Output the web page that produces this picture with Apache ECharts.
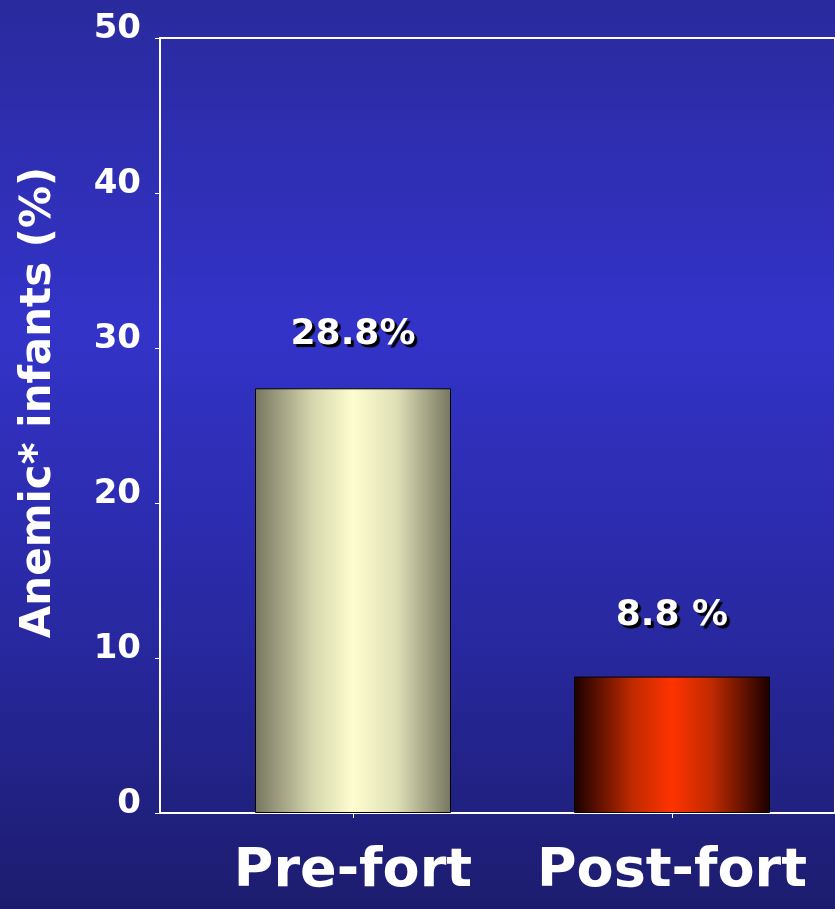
<!DOCTYPE html>
<html><head><meta charset="utf-8">
<script src="https://cdn.jsdelivr.net/npm/echarts@6/dist/echarts.min.js"></script>
<style>html,body{margin:0;padding:0;}#c{width:835px;height:909px;}</style>
</head><body><div id="c"></div>
<script>
var categories = ['Pre-fort', 'Post-fort'];
var values = [27.4, 8.8];
var valueLabels = ['28.8%', '8.8 %'];
var yTicks = [0, 10, 20, 30, 40, 50];
var yName = 'Anemic* infants (%)';

var FONT = '"DejaVu Sans", sans-serif';
var barGradients = [
  [{offset:0,color:'#767660'},{offset:0.3,color:'#d8d8b0'},{offset:0.5,color:'#fdfdcf'},{offset:0.72,color:'#e0e0b8'},{offset:1,color:'#767660'}],
  [{offset:0,color:'#1a0000'},{offset:0.3,color:'#c02a00'},{offset:0.5,color:'#ff3300'},{offset:0.7,color:'#c02a00'},{offset:1,color:'#1a0000'}]
];
var labelDist = [36, 43];

var chart = echarts.init(document.getElementById('c'));
chart.setOption({
  backgroundColor: {type:'linear',x:0,y:0,x2:0,y2:1,colorStops:[
    {offset:0,color:'#2a2a9e'},{offset:0.36,color:'#3333c9'},{offset:0.7,color:'#2828a0'},{offset:1,color:'#1c1c6e'}]},
  grid: [
    {left:160, right:-10, top:38, bottom:96, show:true, borderColor:'#ffffff', borderWidth:2, backgroundColor:'transparent'},
    {left:193.5, width:638, top:38, bottom:96}
  ],
  xAxis: [
    {gridIndex:0, type:'value', min:0, max:1, show:false},
    {gridIndex:1, type:'category', data:categories,
     axisLine:{show:false},
     axisTick:{show:true, alignWithLabel:true, length:5, lineStyle:{color:'#ffffff', width:1}},
     axisLabel:{interval:0, hideOverlap:false, color:'#ffffff', fontFamily:FONT, fontWeight:'bold', fontSize:54, margin:32}}
  ],
  yAxis: [
    {gridIndex:0, type:'value', min:yTicks[0], max:yTicks[yTicks.length-1], interval:10,
     axisLine:{show:true, lineStyle:{color:'#ffffff', width:2}},
     axisTick:{show:true, length:5, lineStyle:{color:'#ffffff', width:1}},
     splitLine:{show:false},
     axisLabel:{color:'#ffffff', fontFamily:FONT, fontWeight:'bold', fontSize:34, margin:19,
       verticalAlign:'bottom', lineHeight:18},
     name:yName, nameLocation:'middle', nameGap:100,
     nameTextStyle:{color:'#ffffff', fontFamily:FONT, fontWeight:'bold', fontSize:42, padding:[0,0,0,46]}},
    {gridIndex:1, type:'value', min:0, max:50, show:false}
  ],
  series: [{
    type:'bar', xAxisIndex:1, yAxisIndex:1, barWidth:196,
    data: values.map(function(v,i){
      return {value:v,
        itemStyle:{color:{type:'linear',x:0,y:0,x2:1,y2:0,colorStops:barGradients[i]}, borderColor:'#000000', borderWidth:1},
        label:{show:true, position:'top', distance:labelDist[i], formatter:valueLabels[i],
          color:'#ffffff', fontFamily:FONT, fontWeight:'bold', fontSize:36,
          textShadowColor:'#000000', textShadowOffsetX:3, textShadowOffsetY:3, textShadowBlur:1}};
    })
  }]
});
</script></body></html>
